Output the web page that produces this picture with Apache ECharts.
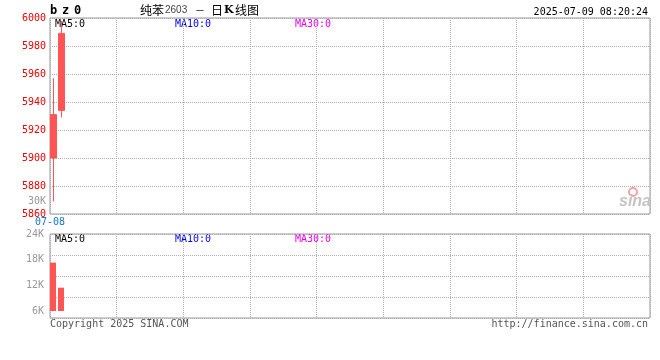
<!DOCTYPE html>
<html><head><meta charset="utf-8">
<script src="https://cdn.jsdelivr.net/npm/echarts@6/dist/echarts.min.js"></script>
<style>html,body{margin:0;padding:0;background:#fff}#c{width:660px;height:360px}</style>
</head><body><div id="c"></div>
<script>
// ---- data ----
const dates = ['07-08', '07-09'];
// each candle: open, close, low, high
const ohlc = [
  [5900, 5931, 5869, 5957],
  [5934, 5989, 5929, 5998]
];
const volumes = [17300, 11450];
const priceMin = 5860, priceMax = 6000, priceStep = 20;
const volMin = 6000, volMax = 24000, volStep = 6000;
const slotCount = 75;
const maLabels = ['MA5:0', 'MA10:0', 'MA30:0'];
const titleParts = ['纯苯', '2603', '－', '日', 'K', '线图'];
const symbolParts = ['b', 'z', '0'];
const stamp = '2025-07-09 08:20:24';
const strayVolLabel = '30K';
const copyright = 'Copyright 2025 SINA.COM';
const siteUrl = 'http://finance.sina.com.cn';

// ---- build ----
const cats = Array.from({length: slotCount}, (_, i) => i < dates.length ? dates[i] : 's' + i);
const MONO = 'DejaVu Sans Mono';
const gridLine = {show: true, lineStyle: {color: '#b0b0b0', type: [1, 1], width: 1}};
const maColors = ['#000000', '#0000ee', '#ee00ee'];
const maX = [55, 175, 295];

function txt(text, x, y, font, fill, align, valign) {
  return {type: 'text', x: x, y: y, silent: true,
    style: {text: text, font: font, fill: fill,
      textAlign: align || 'left', align: align || 'left',
      textVerticalAlign: valign || 'middle', verticalAlign: valign || 'middle'}};
}

const graphics = [];
const symX = [50, 62, 74];
symbolParts.forEach((s, i) => graphics.push(txt(s, symX[i], 11, 'bold 12px ' + MONO, '#000')));
const tFonts = ['12px "Noto Sans CJK SC"', '10px "Liberation Sans"', '10px "Noto Sans CJK SC"', '12px "Noto Sans CJK SC"', 'bold 11px "DejaVu Serif"', '12px "Noto Sans CJK SC"'];
const tX = [140, 165, 195, 211, 224, 235];
const tFill = ['#000', '#444', '#000', '#000', '#000', '#000'];
titleParts.forEach((s, i) => graphics.push(txt(s, tX[i], 10, tFonts[i], tFill[i])));
graphics.push(txt(stamp, 648, 12, '10px ' + MONO, '#000', 'right'));
maLabels.forEach((s, i) => {
  graphics.push(txt(s, maX[i], 24, '10px ' + MONO, maColors[i]));
  graphics.push(txt(s, maX[i], 239, '10px ' + MONO, maColors[i]));
});
graphics.push(txt(strayVolLabel, 46, 201, '10px ' + MONO, '#999', 'right'));
graphics.push(txt(copyright, 50, 324, '10px ' + MONO, '#555'));
graphics.push(txt(siteUrl, 648, 324, '10px ' + MONO, '#555', 'right'));
graphics.push({type: 'circle', silent: true, shape: {cx: 633, cy: 192, r: 4},
  style: {fill: 'none', stroke: '#f3a3a3', lineWidth: 2}});
graphics.push(txt('sina', 651, 202, 'italic bold 16px "Liberation Sans"', '#c4c4c4', 'right'));

const chart = echarts.init(document.getElementById('c'), null, {renderer: 'canvas'});
chart.setOption({
  animation: false,
  backgroundColor: '#fff',
  grid: [
    {left: 50, top: 18, width: 600, height: 196, show: true, borderColor: '#999', borderWidth: 1},
    {left: 50, top: 234, width: 600, height: 84, show: true, borderColor: '#999', borderWidth: 1},
    {left: 49, top: 234, width: 600, height: 77, show: false},
    {left: 49.5, top: 18, width: 600, height: 196, show: false}
  ],
  xAxis: [
    {gridIndex: 0, type: 'value', min: 0, max: 9, interval: 1,
      axisLine: {show: false}, axisTick: {show: false}, splitLine: gridLine,
      axisLabel: {show: true, margin: 3, color: '#1177cc', fontFamily: MONO, fontSize: 10,
        formatter: v => v === 0 ? dates[0] : ''}},
    {gridIndex: 3, type: 'category', data: cats, show: false},
    {gridIndex: 1, type: 'value', min: 0, max: 9, interval: 1,
      axisLine: {show: false}, axisTick: {show: false}, axisLabel: {show: false}, splitLine: gridLine},
    {gridIndex: 2, type: 'category', data: cats, show: false}
  ],
  yAxis: [
    {gridIndex: 0, type: 'value', min: priceMin, max: priceMax, interval: priceStep,
      axisLine: {show: false}, axisTick: {show: false}, splitLine: gridLine,
      axisLabel: {color: '#ee0000', fontFamily: MONO, fontSize: 10, margin: 4, formatter: v => String(v)}},
    {gridIndex: 1, type: 'value', min: 0, max: 4, interval: 1,
      axisLine: {show: false}, axisTick: {show: false}, axisLabel: {show: false}, splitLine: gridLine},
    {gridIndex: 2, type: 'value', min: volMin, max: volMax, interval: volStep, startValue: volMin,
      axisLine: {show: false}, axisTick: {show: false}, splitLine: {show: false},
      axisLabel: {color: '#999', fontFamily: MONO, fontSize: 10, margin: 5,
        formatter: v => (v / 1000) + 'K'}},
    {gridIndex: 3, type: 'value', min: priceMin, max: priceMax, show: false, splitLine: {show: false}}
  ],
  series: [
    {type: 'candlestick', xAxisIndex: 1, yAxisIndex: 3, data: ohlc, barWidth: 6,
      itemStyle: {color: '#ff5555', color0: '#00a000', borderColor: '#ff5555', borderColor0: '#00a000', borderWidth: 1}},
    {type: 'bar', xAxisIndex: 3, yAxisIndex: 2, data: volumes, barWidth: 6, clip: true,
      itemStyle: {color: '#ff5555'}}
  ],
  graphic: graphics
});
</script>
</body></html>
